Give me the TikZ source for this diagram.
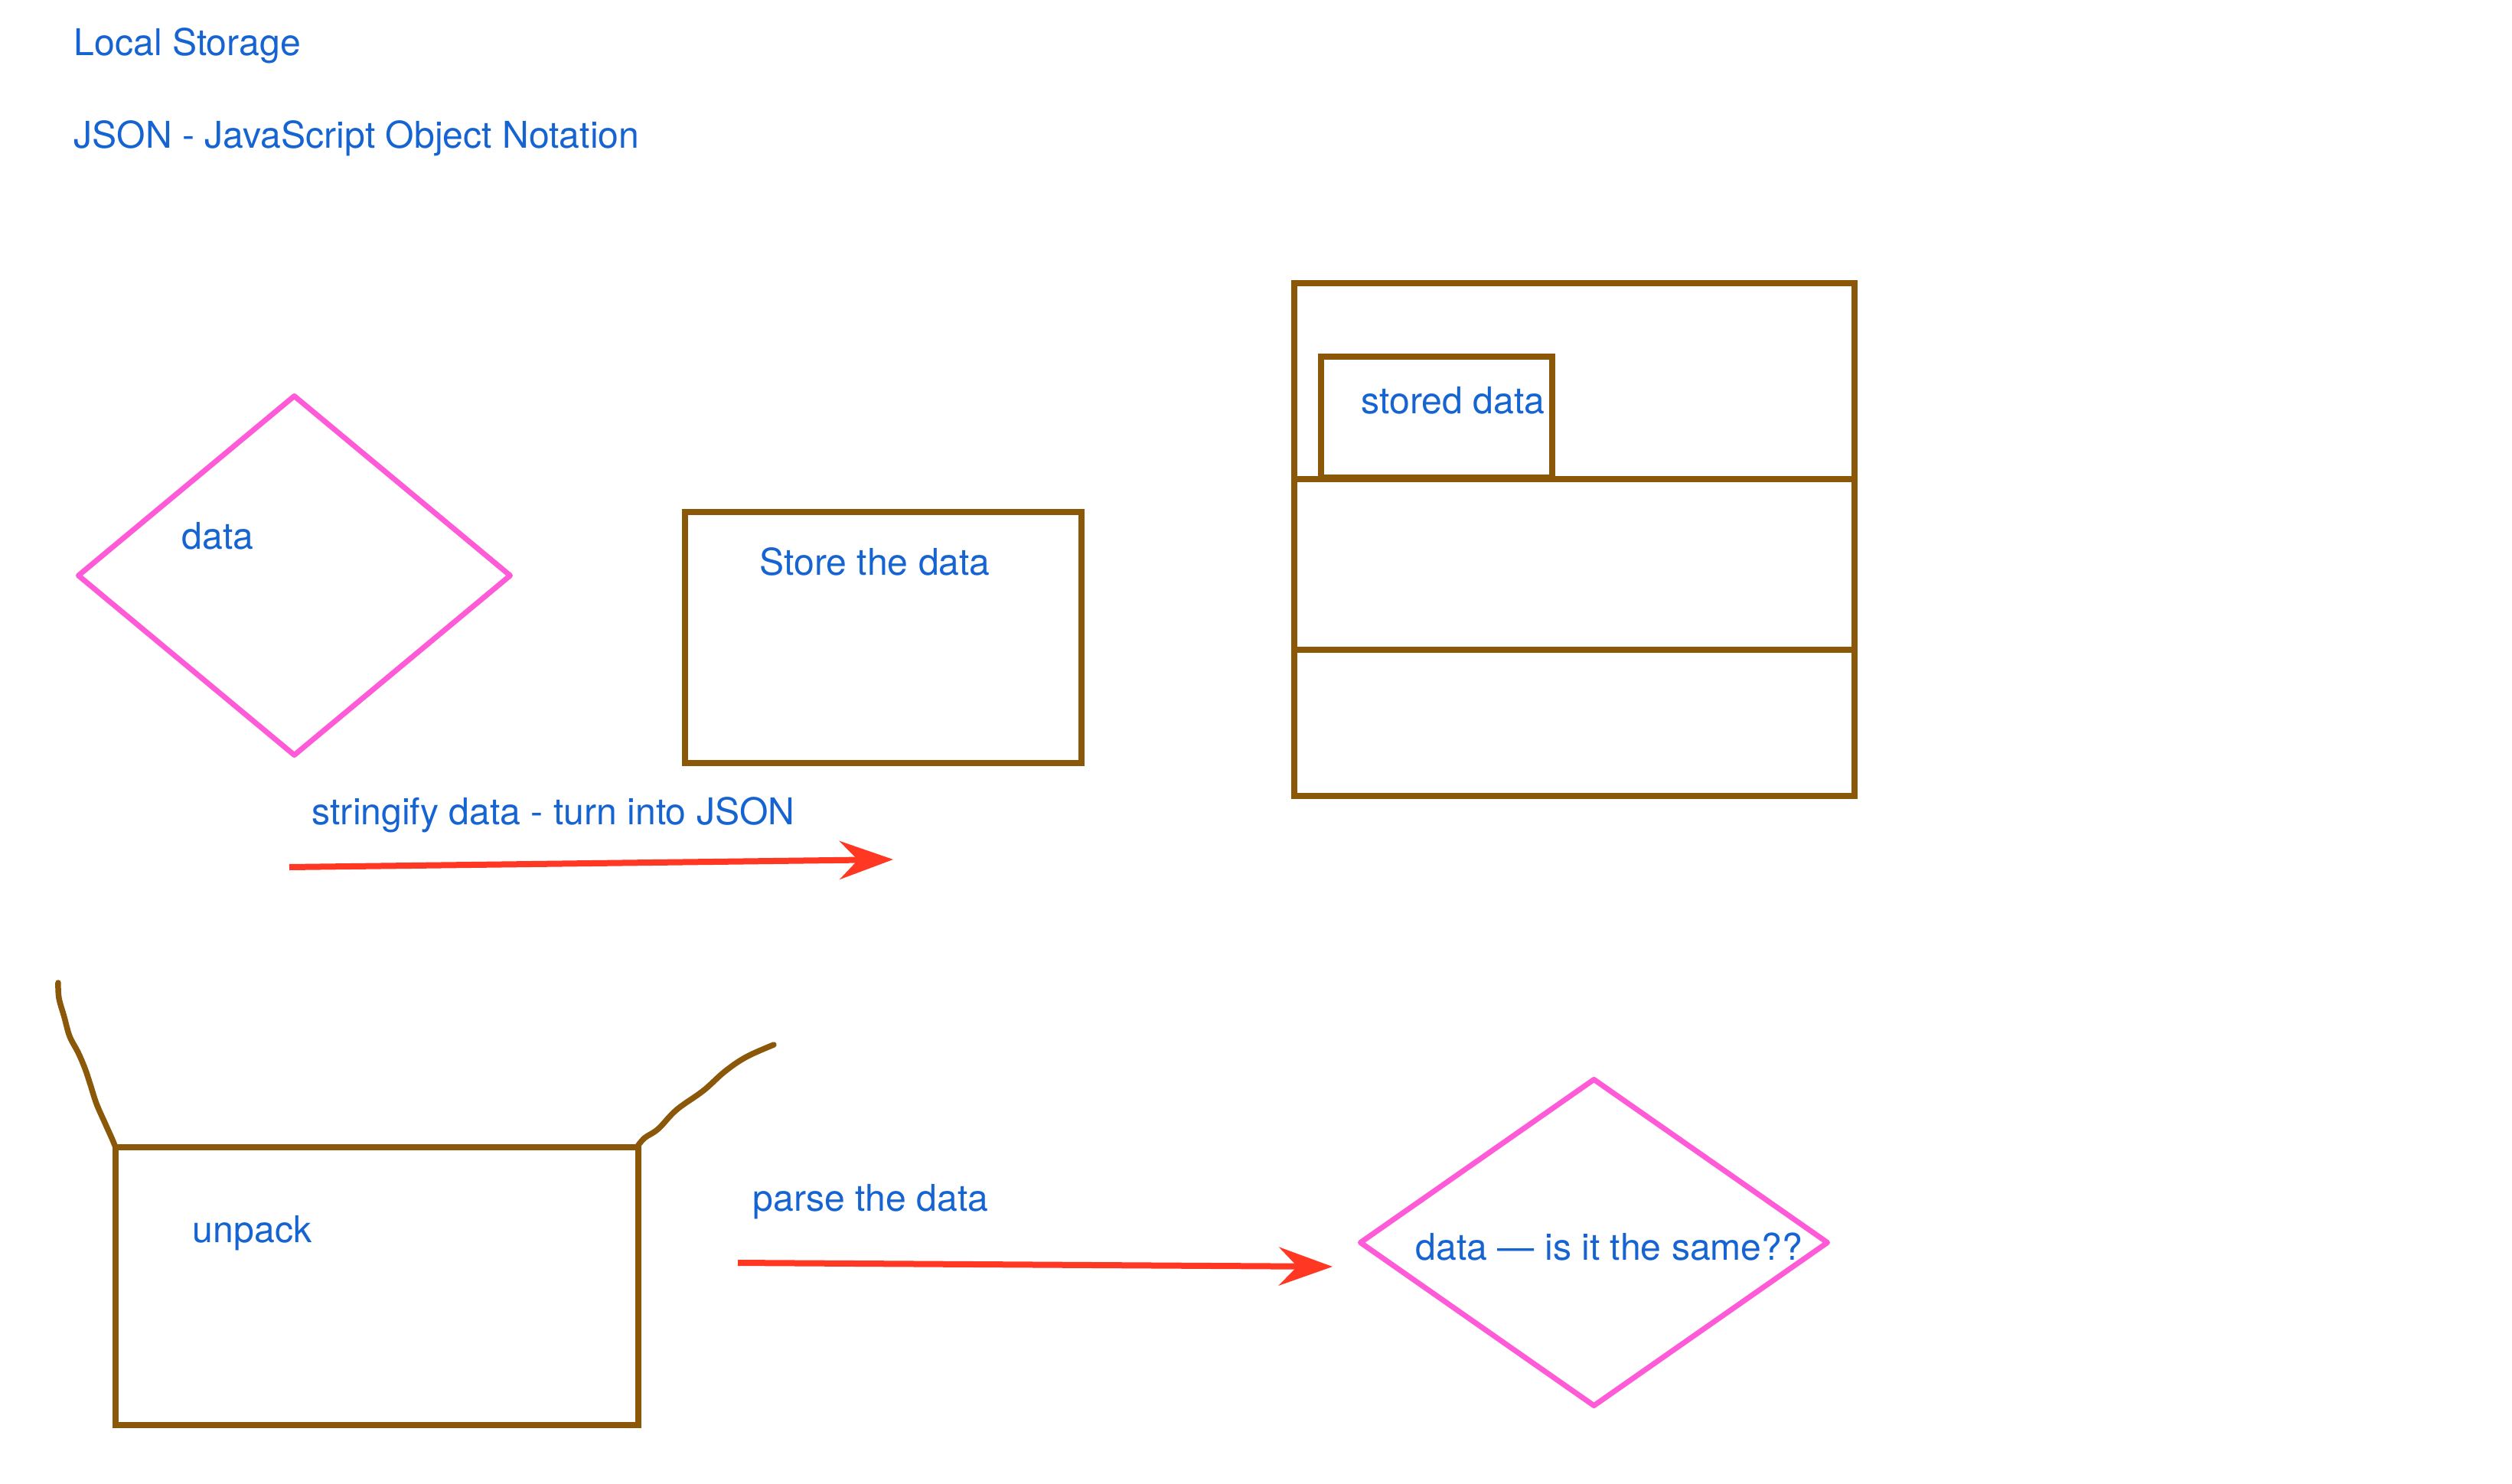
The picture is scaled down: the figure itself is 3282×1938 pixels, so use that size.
\documentclass[tikz,border=0pt]{standalone}
\usepackage{fontspec}
\setmainfont{TeX Gyre Heros}
\usepackage{xcolor}
\usepackage{tikz}
\usetikzlibrary{arrows.meta,positioning,shapes.geometric}
\definecolor{inkblue}{RGB}{22,100,210}
\definecolor{bark}{RGB}{139,88,10}
\definecolor{rose}{RGB}{255,90,216}
\definecolor{flame}{RGB}{255,55,35}
\newcommand{\notefont}{\fontsize{13.7pt}{16pt}\selectfont}
\tikzset{
  crate/.style = {rectangle, draw=bark, line width=0.8mm, inner sep=0pt},
  gem/.style   = {diamond, draw=rose, line width=0.7mm, line join=round, inner sep=0pt},
  note/.style  = {text=inkblue, anchor=base west, inner sep=0pt, font=\notefont},
  flow/.style  = {-{Stealth[length=7mm, width=5mm, inset=2.4mm]}, draw=flame,
                  line width=0.8mm},
  flap/.style  = {draw=bark, line width=0.75mm, line cap=round, line join=round},
}

\begin{document}
\begin{tikzpicture}[
  x=0.1mm, y=-0.1mm,
  cell/.style={crate, minimum width=73.2mm},
]
\fill[white] (0,0) rectangle (3282,1938);
\useasboundingbox (0,0) rectangle (3282,1938);

% titles
\node[note] (title) at (96,73) {Local Storage};
\node[note] (json) at (96,193) {JSON - JavaScript Object Notation};

% upper row
\node[gem, minimum width=56.7mm, minimum height=47.2mm] (rawdata) at (384.5,752) {};
\node[note] (rawtext) at (237,717) {data};
\node[crate, minimum width=51.8mm, minimum height=32.8mm] (store) at (1154,833) {};
\node[note] (storetext) at (992,751) {Store the data};
\node[note] (stringify) at (407,1077) {stringify data - turn into JSON};
\coordinate (s1) at (378,1133);
\coordinate (e1) at (1167,1123);
\draw[flow] (s1) -- (e1);

% the storage shelf
\node[cell, minimum height=25.6mm] (shelftop) at (2057,498) {};
\node[cell, minimum height=22.3mm] (shelfmid) at (2057,737.5) {};
\node[cell, minimum height=19.1mm] (shelfbot) at (2057,944.5) {};
\node[crate, minimum width=30.2mm, minimum height=15.8mm] (slot) at (1877,545) {};
\node[note] (slottext) at (1778,540) {stored data};

% lower row
\node[crate, minimum width=68.3mm, minimum height=36.3mm] (unpack) at (492.5,1680.5) {};
\node[note] (unpacktext) at (251,1623) {unpack};
\draw[flap] plot[smooth, tension=0.6] coordinates {(151,1499) (146,1487) (137,1467)
  (126,1442) (118,1417) (111,1396) (102,1375) (91,1354) (84,1329) (77,1304) (76,1284)};
\draw[flap] plot[smooth, tension=0.6] coordinates {(832,1499) (842,1487) (860,1475)
  (884,1450) (919,1425) (947,1400) (975,1381) (1011,1365)};
\node[note] (parse) at (983,1582) {parse the data};
\coordinate (s2) at (964,1650);
\coordinate (e2) at (1741,1655);
\draw[flow] (s2) -- (e2);
\node[gem, minimum width=61.3mm, minimum height=42.9mm] (check) at (2082.5,1623.5) {};
\node[note] (checktext) at (1849,1646) {data — is it the same??};
\end{tikzpicture}
\end{document}
